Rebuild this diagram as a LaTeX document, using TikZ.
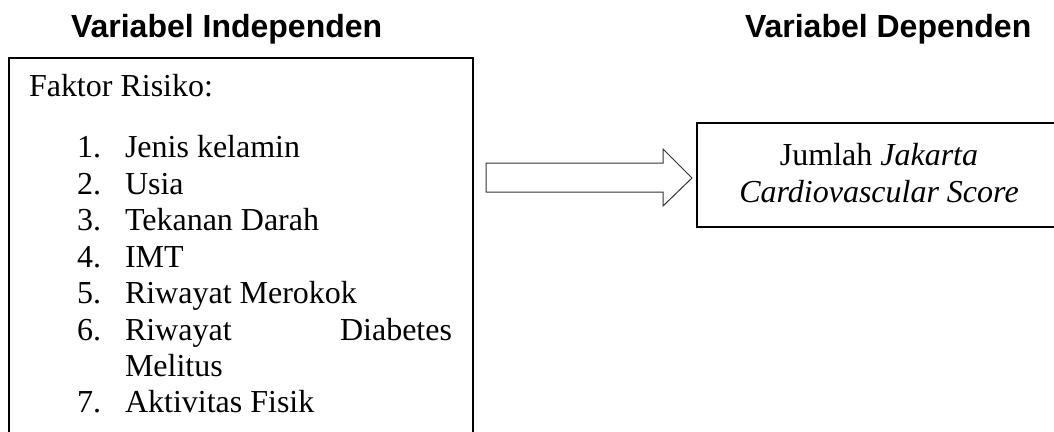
\documentclass[tikz,border=0pt]{standalone}
\usepackage{fontspec}
\setmainfont{Liberation Serif}
\newfontfamily\hdfont{Liberation Sans}
\begin{document}
\begin{tikzpicture}[x=0.75pt,y=-0.75pt,
  every node/.style={inner sep=0pt,outer sep=0pt},
  body/.style={font=\fontsize{24}{28}\selectfont, anchor=base west},
  bodyr/.style={font=\fontsize{24}{28}\selectfont, anchor=base east},
  bodyc/.style={font=\fontsize{24}{28}\selectfont, anchor=base},
  head/.style={font=\hdfont\bfseries\fontsize{24}{28}\selectfont, anchor=base west},
  frame/.style={draw=black, line width=0.9pt},
  fat/.style={draw=black!80, line width=0.75pt, line join=miter, fill=white}]
\useasboundingbox (0,0) rectangle (1054,432);
\clip (0,0) rectangle (1054,432);
% headers
\node[head] (h1) at (71,37) {Variabel Independen};
\node[head] (h2) at (745,37) {Variabel Dependen};
% boxes
\draw[frame] (9,58) rectangle (473,470);
\draw[frame] (697,123) rectangle (1080,227);
\coordinate (L) at (473,178);
\coordinate (R) at (697,178);
% block arrow
\draw[fat] (486,163) -- (663,163) -- (663,149) -- (692,178) -- (663,206) -- (663,192) -- (486,192) -- cycle;
% left box text
\node[body] (t0) at (29,96) {Faktor Risiko:};
\node[body] (n1) at (77,157) {1.};
\node[body] (i1) at (125,157) {Jenis kelamin};
\node[body] (n2) at (77,194) {2.};
\node[body] (i2) at (125,194) {Usia};
\node[body] (n3) at (77,230) {3.};
\node[body] (i3) at (125,230) {Tekanan Darah};
\node[body] (n4) at (77,267) {4.};
\node[body] (i4) at (125,267) {IMT};
\node[body] (n5) at (77,303) {5.};
\node[body] (i5) at (125,303) {Riwayat Merokok};
\node[body] (n6) at (77,340) {6.};
\node[body] (i6) at (125,340) {Riwayat};
\node[bodyr] (i6b) at (452,340) {Diabetes};
\node[body] (i6c) at (125,376) {Melitus};
\node[body] (n7) at (77,412) {7.};
\node[body] (i7) at (125,412) {Aktivitas Fisik};
% right box text
\node[bodyc] (r1) at (879,165) {Jumlah \textit{Jakarta}};
\node[bodyc] (r2) at (879,202) {\textit{Cardiovascular Score}};
\end{tikzpicture}
\end{document}
